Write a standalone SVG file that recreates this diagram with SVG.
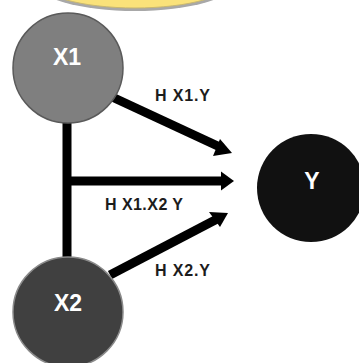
<svg xmlns="http://www.w3.org/2000/svg" width="359" height="363" viewBox="0 0 359 363">
<style>
.lbl{font-family:"Liberation Sans",Arial,sans-serif;font-weight:bold;font-size:16px;fill:#1c1c1c}
.nl{font-family:"Liberation Sans",Arial,sans-serif;font-weight:bold;fill:#fff;text-anchor:middle}
.ln{stroke:#000;stroke-width:9;fill:none}
.ah{fill:#000}
</style>
<rect width="359" height="363" fill="#fff"/>
<g id="banner">
<ellipse cx="135" cy="-18" rx="100" ry="29" fill="#a8a8a8"/>
<ellipse cx="135" cy="-20" rx="98" ry="28" fill="#fae27a" stroke="#c9b870" stroke-width="1"/>
</g>
<g id="connectors">
<line class="ln" x1="67" y1="120" x2="67" y2="260"/>
<line class="ln" x1="67" y1="181" x2="224" y2="181"/>
<polygon class="ah" points="221,171.5 234,181 221,190.5"/>
<line class="ln" x1="110" y1="96" x2="222" y2="148"/>
<polygon class="ah" points="220,139 232,153 213,156"/>
<line class="ln" x1="110" y1="275" x2="219" y2="218"/>
<polygon class="ah" points="209,212 228,213 220,227"/>
</g>
<g id="X1">
<circle cx="68" cy="68" r="55" fill="#7f7f7f" stroke="#5a5a5a" stroke-width="1.5"/>
<text class="nl" x="67" y="65" font-size="23">X1</text>
</g>
<g id="X2">
<circle cx="68" cy="312" r="55" fill="#404040" stroke="#8a8a8a" stroke-width="1.5"/>
<text class="nl" x="68" y="311" font-size="23">X2</text>
</g>
<g id="Y">
<circle cx="311" cy="188" r="54" fill="#111"/>
<text class="nl" x="312" y="189" font-size="23">Y</text>
</g>
<g id="labels">
<text class="lbl" x="155" y="101" textLength="55">H X1.Y</text>
<text class="lbl" x="105" y="210" textLength="78">H X1.X2 Y</text>
<text class="lbl" x="155" y="276" textLength="55">H X2.Y</text>
</g>
</svg>
